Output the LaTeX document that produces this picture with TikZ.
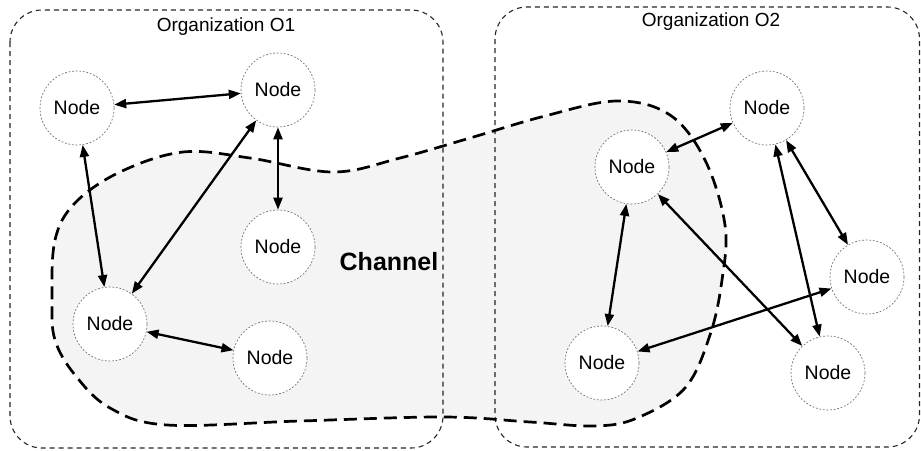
\documentclass[tikz,border=0pt]{standalone}
\usepackage{fontspec}
\setmainfont{Liberation Sans}
\usetikzlibrary{arrows.meta}
\definecolor{channelfill}{HTML}{F4F4F4}
\begin{document}
\begin{tikzpicture}[x=1pt,y=-1pt,
  org/.style={draw=black!85, line width=1.1pt, dash pattern=on 5pt off 4pt, rounded corners=32pt},
  orglabel/.style={font=\fontsize{19}{22}\selectfont},
  peer/.style={circle, draw=black!55, line width=0.7pt, dash pattern=on 1.8pt off 1.8pt,
    fill=white, minimum size=74pt, inner sep=0pt, font=\fontsize{19.5}{22}\selectfont},
  link/.style={line width=2.3pt, {Triangle[length=12pt,width=9pt]}-{Triangle[length=12pt,width=9pt]}},
  chan/.style={draw=black, line width=2.7pt, dash pattern=on 13pt off 7pt}]
\useasboundingbox (0,0) rectangle (921,450);

% channel area (fill first, outline drawn after the organisation frames)
\def\channelpath{plot[smooth cycle, tension=0.6] coordinates {
  (52,300) (55,240) (75,203) (120,172) (183,152) (250,158) (333,172) (400,158)
  (470,138) (545,116) (617,101) (670,115) (705,160) (725,225) (722,280) (710,335)
  (685,388) (637,418) (595,426) (530,422) (443,417) (300,421) (167,425) (110,408)
  (75,375) (55,340)}}
\fill[channelfill] \channelpath;

% organisation frames
\draw[org] (10,10) rectangle (443,448);
\draw[org] (495,7) rectangle (919.5,447);
\node[orglabel] (o1) at (226,27) {Organization O1};
\node[orglabel] (o2) at (711,22) {Organization O2};

% channel outline and label
\draw[chan] \channelpath;
\node[font=\fontsize{25}{28}\selectfont\bfseries] (ch) at (389,262) {Channel};

% peers
\node[peer] (n1) at (77,108) {Node};
\node[peer] (n2) at (278,90) {Node};
\node[peer] (n3) at (278,247) {Node};
\node[peer] (n4) at (110,324) {Node};
\node[peer] (n5) at (270,358) {Node};
\node[peer] (n6) at (767,108) {Node};
\node[peer] (n7) at (632,167) {Node};
\node[peer] (n8) at (867,277) {Node};
\node[peer] (n9) at (602,363) {Node};
\node[peer] (n10) at (828,373) {Node};

% connections
\draw[link] (n1) -- (n2);
\draw[link] (n1) -- (n4);
\draw[link] (n2) -- (n4);
\draw[link] (n2) -- (n3);
\draw[link] (n4) -- (n5);
\draw[link] (n6) -- (n7);
\draw[link] (n7) -- (n9);
\draw[link] (n7) -- (n10);
\draw[link] (n6) -- (n10);
\draw[link] (n6) -- (n8);
\draw[link] (n8) -- (n9);
\end{tikzpicture}
\end{document}
